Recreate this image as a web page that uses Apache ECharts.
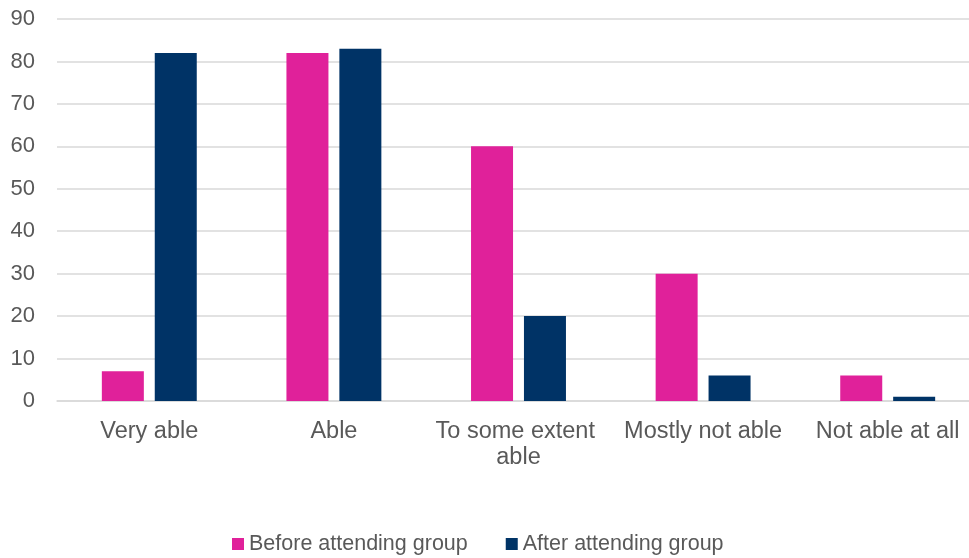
<!DOCTYPE html>
<html>
<head>
<meta charset="utf-8">
<script src="https://cdn.jsdelivr.net/npm/echarts@6/dist/echarts.min.js"></script>
<style>
  html, body { margin: 0; padding: 0; background: #fff; }
  #chart { width: 969px; height: 558px; }
</style>
</head>
<body>
<div id="chart"></div>
<script>
// Self-reported ability, before and after attending the group
const categories = ['Very able', 'Able', 'To some extent able', 'Mostly not able', 'Not able at all'];
const beforeValues = [7, 82, 60, 30, 6];
const afterValues = [82, 83, 20, 6, 1];
const seriesNames = ['Before attending group', 'After attending group'];

const textColor = '#595959';
const fontFamily = '"Liberation Sans", Arial, sans-serif';

const chart = echarts.init(document.getElementById('chart'));
chart.setOption({
  animation: false,
  textStyle: { fontFamily: fontFamily },
  // plot area runs slightly past the right edge of the canvas
  grid: {
    left: 57, width: 923, top: 19, height: 382,
    containLabel: false,
    outerBoundsMode: 'none'
  },
  legend: {
    data: seriesNames,
    bottom: -2,
    left: 227,
    itemWidth: 12,
    itemHeight: 12,
    itemGap: 38,
    icon: 'rect',
    textStyle: { color: textColor, fontSize: 21.5, fontFamily: fontFamily }
  },
  xAxis: {
    type: 'category',
    data: categories,
    axisLine: { lineStyle: { color: '#d9d9d9', width: 1.5 } },
    axisTick: { show: false },
    axisLabel: {
      color: textColor,
      fontSize: 23.5,
      fontFamily: fontFamily,
      margin: 18,
      width: 178,
      overflow: 'break',
      interval: 0,
      lineHeight: 26
    }
  },
  yAxis: {
    type: 'value',
    min: 0,
    max: 90,
    interval: 10,
    axisLine: { show: false },
    axisTick: { show: false },
    axisLabel: { color: textColor, fontSize: 22, fontFamily: fontFamily, margin: 22 },
    splitLine: { lineStyle: { color: '#d9d9d9', width: 1.5 } }
  },
  series: [
    {
      name: seriesNames[0],
      type: 'bar',
      data: beforeValues,
      barWidth: 42,
      barGap: '26%',
      itemStyle: { color: '#e0219a' }
    },
    {
      name: seriesNames[1],
      type: 'bar',
      data: afterValues,
      barWidth: 42,
      itemStyle: { color: '#003366' }
    }
  ]
});
</script>
</body>
</html>
